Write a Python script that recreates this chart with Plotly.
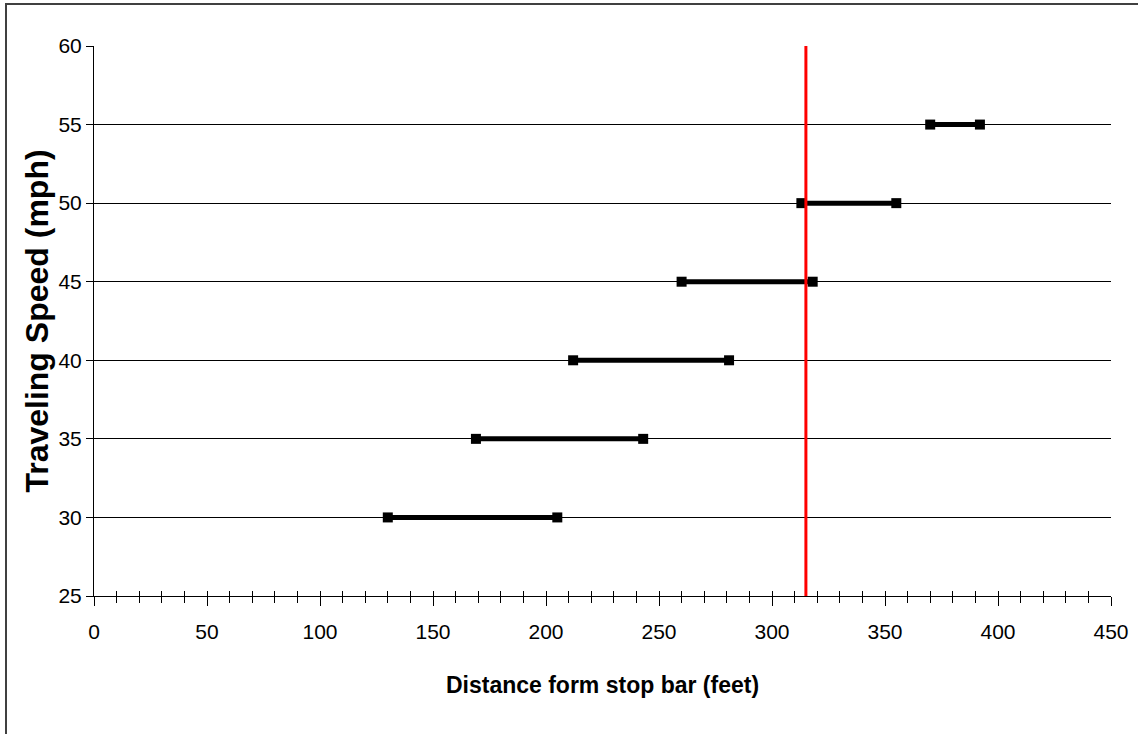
import plotly.graph_objects as go

# Data
speeds = [30, 35, 40, 45, 50, 55]          # mph
zone_start = [130, 169, 212, 260, 313, 370]  # feet
zone_end = [205, 243, 281, 318, 355, 392]    # feet
stop_line_x = [315, 315]
stop_line_y = [25, 60]

x_ticks = list(range(0, 451, 50))
y_ticks = list(range(25, 61, 5))

W, H = 1138, 734
L, R, T, B = 94, 27, 46, 138
pw, ph = W - L - R, H - T - B

tick_font = dict(family="Liberation Sans, Arial", size=21, color="black")

fig = go.Figure()

for s, a, b in zip(speeds, zone_start, zone_end):
    fig.add_trace(go.Scatter(
        x=[a, b], y=[s, s], mode="lines+markers",
        line=dict(color="black", width=5),
        marker=dict(symbol="square", size=10, color="black"),
        showlegend=False, hoverinfo="x+y"))

fig.add_trace(go.Scatter(
    x=stop_line_x, y=stop_line_y, mode="lines", xaxis="x2",
    line=dict(color="#FF0000", width=3), showlegend=False))

fig.update_layout(
    width=W, height=H,
    margin=dict(l=L, r=R, t=T, b=B, autoexpand=False),
    paper_bgcolor="white", plot_bgcolor="white",
    showlegend=False,
    xaxis=dict(
        range=[0, 450], tickvals=x_ticks, ticktext=[str(v) for v in x_ticks],
        ticks="outside", ticklen=9, tickwidth=1, tickcolor="black",
        ticklabelstandoff=8,
        minor=dict(dtick=10, tick0=0, ticks="outside", ticklen=6, tickwidth=1,
                   tickcolor="black", showgrid=False),
        showline=True, linecolor="black", linewidth=1,
        showgrid=False, zeroline=False,
        tickfont=tick_font,
        title=dict(text="Distance form stop bar (feet)", standoff=34,
                   font=dict(family="Liberation Sans, Arial",
                             size=23, color="black", weight="bold")),
    ),
    xaxis2=dict(
        range=[0, 450], overlaying="x", anchor="y", side="bottom",
        tickvals=x_ticks, ticks="inside", ticklen=5, tickwidth=1, tickcolor="black",
        minor=dict(dtick=10, tick0=0, ticks="inside", ticklen=5, tickwidth=1,
                   tickcolor="black", showgrid=False),
        showticklabels=False, showline=False, showgrid=False, zeroline=False,
    ),
    yaxis=dict(
        range=[25, 60], tickvals=y_ticks, ticktext=[str(v) for v in y_ticks],
        ticks="outside", ticklen=7, tickwidth=1, tickcolor="black",
        showline=True, linecolor="black", linewidth=1,
        showgrid=True, gridcolor="black", gridwidth=1, zeroline=False,
        tickfont=tick_font,
        title=dict(text="Traveling Speed (mph)", standoff=0,
                   font=dict(family="Liberation Sans, Arial", size=32,
                             color="black", weight="bold")),
    ),
    shapes=[dict(type="rect", xref="paper", yref="paper",
                 x0=(6 - L) / pw, x1=1.2, y0=-0.6, y1=(T + ph - 4) / ph,
                 line=dict(color="#404040", width=2), fillcolor="rgba(0,0,0,0)",
                 layer="above")],
)

fig.write_html("out.html", config={"displayModeBar": False},
               post_script="document.body.style.margin='0';document.body.style.overflow='hidden';")
